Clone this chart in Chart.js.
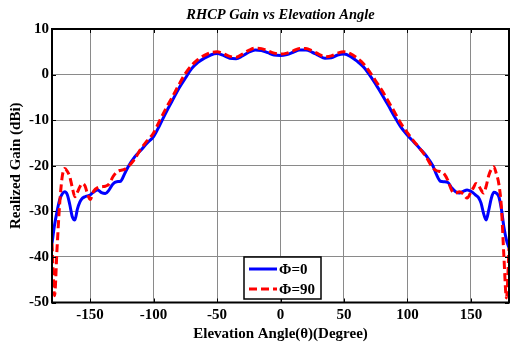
<!DOCTYPE html>
<html>
<head>
<meta charset="utf-8">
<script src="https://cdn.jsdelivr.net/npm/chart.js@4.4.1/dist/chart.umd.min.js"></script>
<style>
  html, body { margin: 0; padding: 0; background: #ffffff; overflow: hidden; }
  #wrap { width: 510px; height: 344px; }
</style>
</head>
<body>
<div id="wrap"><canvas id="c" width="510" height="344"></canvas></div>
<script>
// Elevation angle samples (degrees)
const angles = [
  -180, -178, -176, -174, -172, -170, -168, -166, -164, -162, -160, -158, -156, -154, -152,
  -150, -147, -144, -141, -138, -135, -132, -129, -126, -123, -120, -115, -110, -105, -100,
  -95, -90, -85, -80, -75, -70, -65, -60, -55, -50, -45, -40, -35, -30, -25, -20, -15, -10, -5,
  0,
  5, 10, 15, 20, 25, 30, 35, 40, 45, 50, 55, 60, 65, 70, 75, 80, 85, 90, 95,
  100, 105, 110, 115, 120, 123, 126, 129, 132, 135, 138, 141, 144, 147, 150,
  152, 154, 156, 158, 160, 162, 164, 166, 168, 170, 172, 174, 176, 178, 180
];

// RHCP realized gain, phi = 0 cut (dBi)
const gainPhi0 = [
  -37, -33, -30, -27.5, -26.2, -25.7, -26.3, -28.5, -31.2, -31.9, -29.5, -27.9, -27.1, -26.8, -26.6,
  -26.4, -25.7, -25.3, -25.9, -26.1, -25.3, -24.0, -23.5, -23.4, -21.9, -20.2, -18.1, -16.6, -15.0, -13.6,
  -11.0, -8.2, -5.6, -3.0, -0.8, 1.3, 2.7, 3.6, 4.3, 4.6, 4.2, 3.6, 3.5, 4.1, 4.9, 5.4, 5.3, 4.8, 4.3,
  4.2,
  4.4, 4.9, 5.4, 5.4, 4.9, 4.2, 3.6, 3.7, 4.3, 4.5, 4.0, 3.0, 1.8, 0.0, -2.1, -4.4, -6.8, -9.3, -11.6,
  -13.3, -14.8, -16.3, -17.9, -20.0, -22.0, -23.4, -23.5, -23.7, -24.9, -25.7, -26.0, -25.6, -25.3, -25.6,
  -26.0, -26.5, -27.0, -28.2, -30.5, -31.9, -29.8, -27.2, -25.8, -26.0, -26.8, -29.5, -33.5, -36.3, -38
];

// RHCP realized gain, phi = 90 cut (dBi)
const gainPhi90 = [
  -37, -48.5, -38, -28.5, -22.5, -20.6, -21.2, -22.4, -24.8, -26.8, -25.8, -24.6, -23.9, -24.4, -26.2,
  -27.4, -25.5, -24.8, -24.6, -24.5, -24.0, -22.4, -21.4, -21.0, -20.8, -20.2, -18.6, -16.3, -14.5, -12.8,
  -10.0, -7.3, -4.8, -2.2, 0.2, 2.0, 3.3, 4.2, 4.8, 5.0, 4.6, 4.0, 3.8, 4.5, 5.3, 5.8, 5.7, 5.2, 4.7,
  4.5,
  4.7, 5.2, 5.7, 5.7, 5.2, 4.5, 3.9, 4.1, 4.7, 5.0, 4.6, 3.7, 2.5, 0.7, -1.4, -3.5, -5.9, -8.3, -10.8,
  -12.8, -14.6, -16.3, -18.2, -20.5, -21.1, -21.3, -21.8, -23.3, -25.5, -26.0, -25.7, -26.2, -27.1, -25.8,
  -24.8, -23.9, -24.3, -25.3, -26.0, -24.5, -22.2, -20.8, -20.2, -21.7, -24.0, -29.0, -40.0, -49.0, -38
];

const xTickValues = [-150, -100, -50, 0, 50, 100, 150];
const seriesNames = ['\u03A6=0', '\u03A6=90'];
const titleText = 'RHCP Gain vs Elevation Angle';
const xTitle = 'Elevation Angle(\u03B8)(Degree)';
const yTitle = 'Realized Gain (dBi)';

const serif = '"Liberation Serif", "Times New Roman", Times, serif';
const toPoints = (vals) => angles.map((a, i) => ({ x: a, y: vals[i] }));

// Frame with inward tick marks, plot title and boxed legend
const framePlugin = {
  id: 'frame',
  afterDraw(chart) {
    const { ctx, chartArea: a, scales } = chart;
    ctx.save();
    ctx.strokeStyle = '#000';
    ctx.lineWidth = 1;
    const tl = 4;
    ctx.beginPath();
    scales.x.ticks.forEach(t => {
      const px = Math.round(scales.x.getPixelForValue(t.value)) + 0.5;
      ctx.moveTo(px, a.top); ctx.lineTo(px, a.top + tl);
      ctx.moveTo(px, a.bottom); ctx.lineTo(px, a.bottom - tl);
    });
    scales.y.ticks.forEach(t => {
      const py = Math.round(scales.y.getPixelForValue(t.value)) + 0.5;
      ctx.moveTo(a.left, py); ctx.lineTo(a.left + tl, py);
      ctx.moveTo(a.right, py); ctx.lineTo(a.right - tl, py);
    });
    ctx.stroke();
    ctx.lineWidth = 2;
    ctx.strokeRect(a.left, a.top, a.right - a.left, a.bottom - a.top);

    // title
    ctx.fillStyle = '#000';
    ctx.font = 'italic bold 14.5px ' + serif;
    ctx.textAlign = 'center';
    ctx.textBaseline = 'alphabetic';
    ctx.fillText(titleText, (a.left + a.right) / 2, 19);

    // legend
    const lx = 244, ly = 257, lw = 77, lh = 42;
    ctx.fillStyle = '#fff';
    ctx.fillRect(lx, ly, lw, lh);
    ctx.lineWidth = 1.5;
    ctx.strokeStyle = '#000';
    ctx.strokeRect(lx, ly, lw, lh);
    const rows = [ly + 12, ly + 32];
    chart.data.datasets.forEach((ds, i) => {
      ctx.beginPath();
      ctx.strokeStyle = ds.borderColor;
      ctx.lineWidth = ds.borderWidth;
      ctx.setLineDash(ds.borderDash || []);
      ctx.moveTo(lx + 5, rows[i]);
      ctx.lineTo(lx + 33, rows[i]);
      ctx.stroke();
      ctx.setLineDash([]);
      ctx.fillStyle = '#000';
      ctx.font = 'bold 15px ' + serif;
      ctx.textAlign = 'left';
      ctx.textBaseline = 'middle';
      ctx.fillText(ds.label, lx + 35, rows[i] + 1);
    });
    ctx.restore();
  }
};

new Chart(document.getElementById('c'), {
  type: 'line',
  data: {
    datasets: [
      {
        label: seriesNames[0],
        data: toPoints(gainPhi0),
        borderColor: '#0000ff',
        borderWidth: 3,
        pointRadius: 0,
        cubicInterpolationMode: 'monotone',
        fill: false,
        order: 1
      },
      {
        label: seriesNames[1],
        data: toPoints(gainPhi90),
        borderColor: '#ff0000',
        borderWidth: 3,
        borderDash: [8, 4],
        pointRadius: 0,
        cubicInterpolationMode: 'monotone',
        fill: false,
        order: 0
      }
    ]
  },
  options: {
    responsive: false,
    animation: false,
    devicePixelRatio: 1,
    layout: { padding: { top: 29, right: 1, left: 0, bottom: 0 } },
    plugins: {
      legend: { display: false },
      tooltip: { enabled: false },
      title: { display: false }
    },
    scales: {
      x: {
        type: 'linear',
        min: -180,
        max: 180,
        afterBuildTicks: (s) => { s.ticks = xTickValues.map(v => ({ value: v })); },
        afterFit: (s) => { s.height = 41.5; },
        grid: { color: '#8a8a8a', lineWidth: 1, drawTicks: false },
        border: { display: false },
        ticks: {
          padding: 4,
          maxRotation: 0,
          color: '#000',
          font: { family: serif, size: 15, weight: 'bold' }
        },
        title: {
          display: true,
          text: xTitle,
          color: '#000',
          font: { family: serif, size: 15, weight: 'bold' },
          padding: { top: 0, bottom: 1 }
        }
      },
      y: {
        min: -50,
        max: 10,
        afterFit: (s) => { s.width = 52; },
        grid: { color: '#8a8a8a', lineWidth: 1, drawTicks: false },
        border: { display: false },
        ticks: {
          stepSize: 10,
          padding: 3,
          color: '#000',
          font: { family: serif, size: 15, weight: 'bold' }
        },
        title: {
          display: true,
          text: yTitle,
          color: '#000',
          font: { family: serif, size: 15, weight: 'bold' },
          padding: { top: 7, bottom: 0 }
        }
      }
    }
  },
  plugins: [framePlugin]
});
</script>
</body>
</html>
